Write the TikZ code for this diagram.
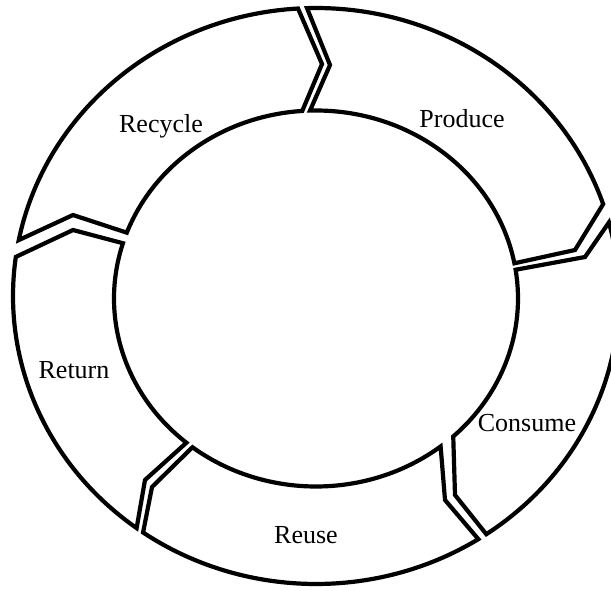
\documentclass[tikz,border=0pt]{standalone}
\usepackage{fontspec}
\setmainfont{Liberation Serif}
\usetikzlibrary{calc}

\begin{document}
\begin{tikzpicture}[
    x=1pt, y=-1pt,
    segment/.style={draw, line width=4.2pt, line join=miter, miter limit=4},
    stagetext/.style={anchor=base, inner sep=0pt, font=\fontsize{26}{30}\selectfont}
]
\useasboundingbox (0,0) rectangle (611,590);
\clip (0,0) rectangle (611,590);

% centres of the outer and inner ring
\coordinate (oc) at (316,296);
\coordinate (ic) at (316,298.5);

% Recycle segment
\draw[segment] ($(oc)+(191.2:303 and 288)$)
    arc[start angle=191.2, end angle=266.6, x radius=303, y radius=288]
    -- (322,64) -- ($(ic)+(266.1:202 and 188)$)
    arc[start angle=266.1, end angle=200.5, x radius=202, y radius=188]
    -- (73,215) -- cycle;

% Produce segment
\draw[segment] ($(oc)+(268.3:303 and 288)$)
    arc[start angle=268.3, end angle=341.4, x radius=303, y radius=288]
    -- (575,250) -- ($(ic)+(349.2:202 and 188)$)
    arc[start angle=349.2, end angle=268.3, x radius=202, y radius=188]
    -- (330,65) -- cycle;

% Consume segment
\draw[segment] ($(oc)+(345.2:303 and 288)$)
    arc[start angle=345.2, end angle=415.8, x radius=303, y radius=288]
    -- (455,495) -- ($(ic)+(47.2:202 and 188)$)
    arc[start angle=47.2, end angle=-8.8, x radius=202, y radius=188]
    -- (585,257) -- cycle;

% Reuse segment
\draw[segment] ($(oc)+(57.6:303 and 288)$)
    arc[start angle=57.6, end angle=124.8, x radius=303, y radius=288]
    -- (152,487) -- ($(ic)+(127.7:202 and 188)$)
    arc[start angle=127.7, end angle=51.9, x radius=202, y radius=188]
    -- (445,500) -- cycle;

% Return segment
\draw[segment] ($(oc)+(126.3:303 and 288)$)
    arc[start angle=126.3, end angle=187.8, x radius=303, y radius=288]
    -- (73,230) -- ($(ic)+(197.1:202 and 188)$)
    arc[start angle=197.1, end angle=129.9, x radius=202, y radius=188]
    -- (145,480) -- cycle;

% stage names
\node[stagetext] (recycle) at (161,132) {Recycle};
\node[stagetext] (produce) at (462,127) {Produce};
\node[stagetext] (consume) at (527,431) {Consume};
\node[stagetext] (reuse) at (306,543) {Reuse};
\node[stagetext] (return) at (74,378) {Return};

\end{tikzpicture}
\end{document}
